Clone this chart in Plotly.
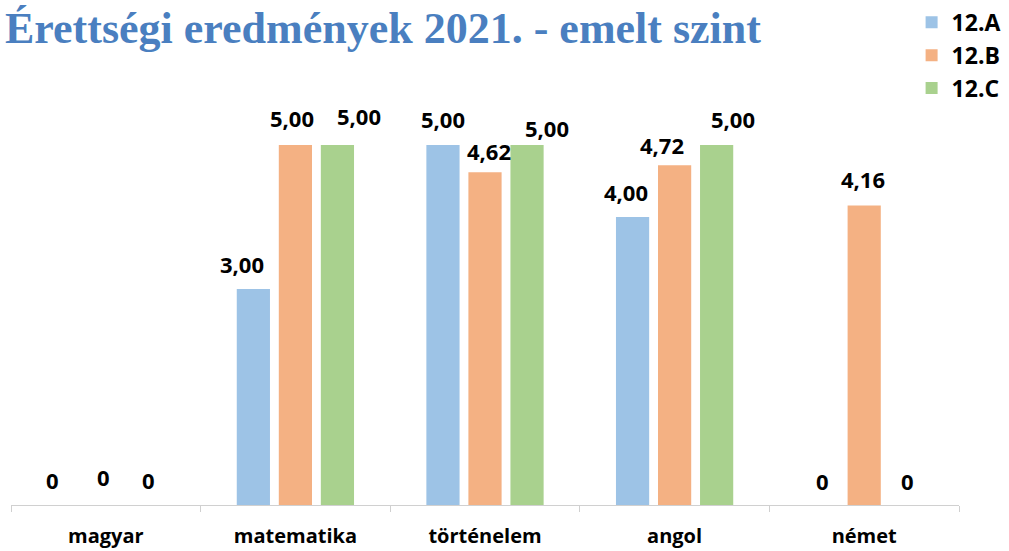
import plotly.graph_objects as go

categories = ["magyar", "matematika", "történelem", "angol", "német"]
series_names = ["12.A", "12.B", "12.C"]
values_a = [0, 3.00, 5.00, 4.00, 0]
values_b = [0, 5.00, 4.62, 4.72, 4.16]
values_c = [0, 5.00, 5.00, 5.00, 0]
colors = ["#9DC3E6", "#F4B183", "#A9D18E"]

# style: per-label pixel nudges (labels were hand-placed in the original)
label_dx = [[-11, -11, 0, -7, 0], [-2, -3, 4, -13, -1], [1, 22, 20, 16, 1]]
label_dy = [[25, 25, 26, 25, 24], [28, 27, 21, 20, 26], [25, 29, 17, 26, 24]]
slot_px = 42


def label(v):
    return "0" if v == 0 else f"{v:.2f}".replace(".", ",")


fig = go.Figure()
series = [values_a, values_b, values_c]
for i, (name, vals, col) in enumerate(zip(series_names, series, colors)):
    fig.add_trace(go.Bar(
        x=categories, y=vals, name=name,
        marker=dict(color=col, line=dict(width=0)),
        hovertemplate="%{x}: %{y:.2f}<extra>" + name + "</extra>",
    ))
    for j, (cat, v) in enumerate(zip(categories, vals)):
        fig.add_annotation(
            x=cat, y=v, text=label(v), showarrow=False,
            xshift=(i - 1) * slot_px + label_dx[i][j], yshift=label_dy[i][j],
            yanchor="middle",
            font=dict(family="Open Sans", size=22, color="#000000", weight="bold"),
        )

fig.update_layout(
    width=1009, height=551,
    paper_bgcolor="white", plot_bgcolor="white",
    margin=dict(l=11, r=50, t=100, b=46, autoexpand=False),
    barmode="group", bargap=0.335, bargroupgap=0.21,
    title=dict(text="Érettségi eredmények 2021. - emelt szint",
               x=5 / 1009, xanchor="left", y=1 - 28 / 551, yanchor="middle",
               font=dict(family="Liberation Serif", size=44, color="#4A7FC0", weight="bold")),
    legend=dict(x=0.950, y=1.245, xanchor="left", yanchor="top",
                font=dict(family="Open Sans", size=23, color="#000000", weight="bold"),
                bgcolor="rgba(0,0,0,0)", itemwidth=30, tracegroupgap=0),
    xaxis=dict(showline=True, linecolor="#D0D0D0", linewidth=1, automargin=False,
               ticks="outside", tickson="boundaries", ticklen=6, tickcolor="#D0D0D0",
               ticklabelstandoff=13,
               tickfont=dict(family="Open Sans", size=20, color="#000000", weight="bold")),
    yaxis=dict(range=[0, 405 / 72], visible=False, showgrid=False, zeroline=False,
               automargin=False),
)

fig.write_html("out.html", config={"displayModeBar": False},
               post_script="document.body.style.margin='0';document.body.style.overflow='hidden';")
